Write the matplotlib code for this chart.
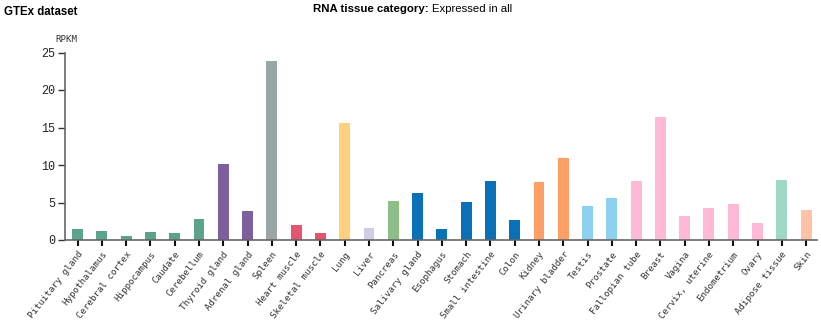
import matplotlib
matplotlib.use("Agg")
import matplotlib.pyplot as plt

tissues = ["Pituitary gland", "Hypothalamus", "Cerebral cortex", "Hippocampus", "Caudate",
           "Cerebellum", "Thyroid gland", "Adrenal gland", "Spleen", "Heart muscle",
           "Skeletal muscle", "Lung", "Liver", "Pancreas", "Salivary gland", "Esophagus",
           "Stomach", "Small intestine", "Colon", "Kidney", "Urinary bladder", "Testis",
           "Prostate", "Fallopian tube", "Breast", "Vagina", "Cervix, uterine",
           "Endometrium", "Ovary", "Adipose tissue", "Skin"]
rpkm = [1.47, 1.2, 0.58, 1.07, 0.89, 2.76, 10.13, 3.87, 23.87, 1.96, 0.89, 15.56, 1.56,
        5.2, 6.27, 1.47, 5.1, 7.87, 2.67, 7.78, 10.89, 4.53, 5.56, 7.87, 16.44, 3.2,
        4.27, 4.8, 2.27, 7.96, 4.0]
colors = ["#5BA48A"] * 6 + ["#7D5F9E"] * 2 + ["#9AA6A5"] + ["#E3566F"] * 2 + \
         ["#FFD17E", "#D2CBE8", "#8CBF87"] + ["#0B71B6"] * 5 + ["#FF9F65"] * 2 + \
         ["#8CD2F0"] * 2 + ["#FDB9D5"] * 6 + ["#9FD8C4", "#FEC3A6"]
yticks = [0, 5, 10, 15, 20, 25]

fig = plt.figure(figsize=(8.21, 3.21), dpi=100)
ax = fig.add_axes([65 / 821, 81 / 321, 752 / 821, 187.5 / 321])
x = list(range(len(tissues)))
ax.bar(x, rpkm, width=0.45, color=colors, zorder=2)
ax.set_xlim(-0.52, len(tissues) - 1 + 0.45)
ax.set_ylim(0, 25)
ax.set_yticks(yticks)
ax.set_yticklabels([str(v) for v in yticks], family="Liberation Mono", fontsize=8.5, color="#222222")
ax.set_xticks(x)
ax.set_xticklabels(tissues, rotation=52, ha="right", rotation_mode="anchor",
                   family="DejaVu Sans Mono", fontsize=6.6, color="#333333")
for s in ["top", "right"]:
    ax.spines[s].set_visible(False)
for s in ["left", "bottom"]:
    ax.spines[s].set_color("#666666")
    ax.spines[s].set_linewidth(1.2)
ax.tick_params(axis="x", length=4, width=1.5, color="#111111", pad=3)
ax.tick_params(axis="y", length=5, width=1.0, color="#333333", pad=2)

fig.text(4 / 821, 1 - 12 / 321, "GTEx dataset", fontsize=8.3, fontweight="bold",
         family="Liberation Sans", va="center", ha="left")
t1 = fig.text(313 / 821, 1 - 9 / 321, "RNA tissue category:", fontsize=8.2, fontweight="bold",
              family="Liberation Sans", va="center", ha="left")
fig.canvas.draw()
bb = t1.get_window_extent()
fig.text((bb.x1 + 3) / 821, 1 - 9 / 321, "Expressed in all", fontsize=8.2,
         family="Liberation Sans", va="center", ha="left")
fig.text(66 / 821, 1 - 40 / 321, "RPKM", fontsize=6.6, family="DejaVu Sans Mono",
         va="center", ha="center", color="#333333")

fig.savefig("out.png", dpi=100)
